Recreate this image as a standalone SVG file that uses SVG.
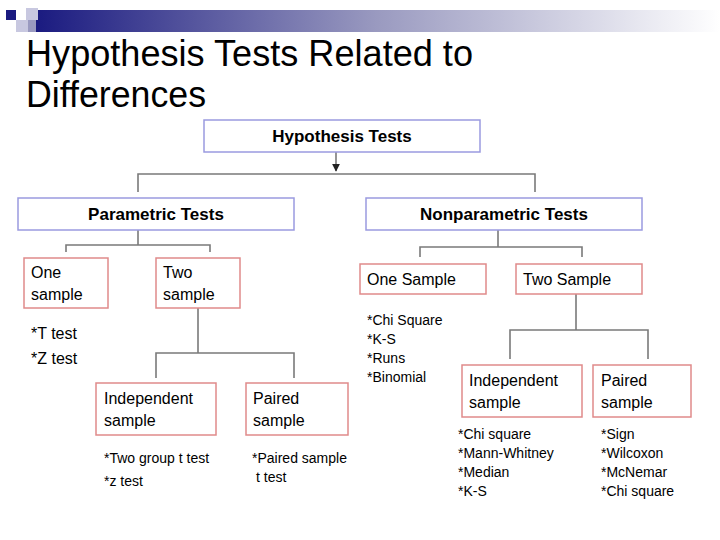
<svg xmlns="http://www.w3.org/2000/svg" width="720" height="540" viewBox="0 0 720 540">
<defs>
<linearGradient id="bar" x1="0" x2="1" y1="0" y2="0"><stop offset="0" stop-color="#1a1a80"/><stop offset="0.5" stop-color="#9a9ac0"/><stop offset="1" stop-color="#ffffff"/></linearGradient>
<marker id="arr" viewBox="0 0 10 10" refX="9" refY="5" markerWidth="5" markerHeight="5" orient="auto"><path d="M0,0 L10,5 L0,10 z" fill="#222"/></marker>
<style>
.b{fill:#fff;stroke:#9a9ae0;stroke-width:1.5}
.r{fill:#fff;stroke:#e08a8a;stroke-width:1.5}
.t{font-family:"Liberation Sans",Arial,sans-serif;fill:#000}
.h{font-size:17px;font-weight:bold;text-anchor:middle}
.n{font-size:16px}
.s{font-size:14px}
.c path{fill:none;stroke:#7a7a7a;stroke-width:1.6}
</style>
</defs>
<rect width="720" height="540" fill="#fff"/>
<rect x="35" y="10" width="685" height="22" fill="url(#bar)"/>
<rect x="6" y="10" width="10" height="10" fill="#1a1a80"/>
<rect x="26" y="8" width="12" height="12" fill="#c8c8e0"/>
<rect x="16" y="20" width="12" height="12" fill="#c8c8e0"/>
<rect x="28" y="20" width="8" height="12" fill="#9a9ac0"/>
<text class="t" x="26" y="66" font-size="36" textLength="447" lengthAdjust="spacingAndGlyphs">Hypothesis Tests Related to</text>
<text class="t" x="26" y="107" font-size="36" textLength="180" lengthAdjust="spacingAndGlyphs">Differences</text>
<g class="c" id="connectors">
<path d="M336,152 V171" marker-end="url(#arr)"/>
<path d="M138,192 V174 H535 V192"/>
<path d="M138,230 V245 M66,252 V245 H210 V252"/>
<path d="M198,308 V353 M156,378 V353 H294 V378"/>
<path d="M498,230 V247 M420,257 V247 H582 V257"/>
<path d="M576,294 V330 M510,359 V330 H648 V359"/>
</g>
<g id="hyp"><rect class="b" x="204" y="120" width="276" height="32"/><text class="t h" x="342" y="142">Hypothesis Tests</text></g>
<g id="param"><rect class="b" x="18" y="198" width="276" height="32"/><text class="t h" x="156" y="220">Parametric Tests</text></g>
<g id="nonparam"><rect class="b" x="366" y="198" width="276" height="32"/><text class="t h" x="504" y="220">Nonparametric Tests</text></g>
<g id="one"><rect class="r" x="24" y="258" width="84" height="50"/><text class="t n" x="31" y="278">One</text><text class="t n" x="31" y="300">sample</text></g>
<g id="two"><rect class="r" x="156" y="258" width="84" height="50"/><text class="t n" x="163" y="278">Two</text><text class="t n" x="163" y="300">sample</text></g>
<g id="ptests"><text class="t n" x="31" y="339">*T test</text><text class="t n" x="31" y="364">*Z test</text></g>
<g id="indep"><rect class="r" x="96" y="383" width="120" height="52"/><text class="t n" x="104" y="404">Independent</text><text class="t n" x="104" y="426">sample</text></g>
<g id="paired"><rect class="r" x="246" y="383" width="102" height="52"/><text class="t n" x="253" y="404">Paired</text><text class="t n" x="253" y="426">sample</text></g>
<g id="ptests2"><text class="t s" x="104" y="463">*Two group t test</text><text class="t s" x="104" y="486">*z test</text><text class="t s" x="252" y="463">*Paired sample</text><text class="t s" x="256" y="482">t test</text></g>
<g id="onesample"><rect class="r" x="360" y="264" width="126" height="30"/><text class="t n" x="367" y="285">One Sample</text></g>
<g id="twosample"><rect class="r" x="516" y="264" width="126" height="30"/><text class="t n" x="523" y="285">Two Sample</text></g>
<g id="nlist"><text class="t s" x="367" y="325">*Chi Square</text><text class="t s" x="367" y="344">*K-S</text><text class="t s" x="367" y="363">*Runs</text><text class="t s" x="367" y="382">*Binomial</text></g>
<g id="nindep"><rect class="r" x="462" y="365" width="120" height="52"/><text class="t n" x="469" y="386">Independent</text><text class="t n" x="469" y="408">sample</text></g>
<g id="npaired"><rect class="r" x="593" y="365" width="98" height="52"/><text class="t n" x="601" y="386">Paired</text><text class="t n" x="601" y="408">sample</text></g>
<g id="nlist2"><text class="t s" x="458" y="439">*Chi square</text><text class="t s" x="458" y="458">*Mann-Whitney</text><text class="t s" x="458" y="477">*Median</text><text class="t s" x="458" y="496">*K-S</text>
<text class="t s" x="601" y="439">*Sign</text><text class="t s" x="601" y="458">*Wilcoxon</text><text class="t s" x="601" y="477">*McNemar</text><text class="t s" x="601" y="496">*Chi square</text></g>
</svg>
